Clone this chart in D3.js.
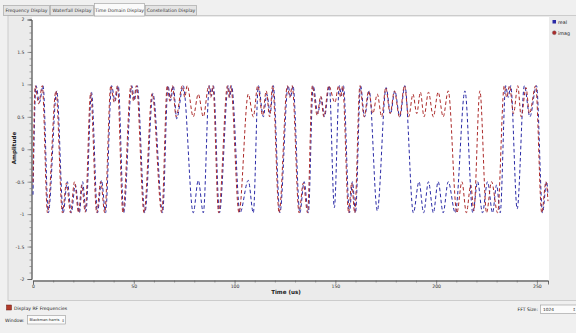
<!DOCTYPE html>
<html>
<head>
<meta charset="utf-8">
<script src="https://cdn.jsdelivr.net/npm/d3@7"></script>
<style>
  body { margin: 0; background: #f0f0f0; }
  svg { display: block; font-family: "DejaVu Sans", sans-serif; }
</style>
</head>
<body>
<div id="chart"></div>
<script>
// tabs and tick labels
const tabNames = ["Frequency Display", "Waterfall Display", "Time Domain Display", "Constellation Display"]
const xMajorTicks = [0, 50, 100, 150, 200, 250]
const yMajorTicks = [-2, -1.5, -1, -0.5, 0, 0.5, 1, 1.5, 2]
const seriesNames = ["real", "imag"]

// turning points of each trace: [sample, amplitude]
const realPoints = [
  [0, -0.7], [1.5, 0.98], [3.2, 0.72], [5, 0.98], [7.6, -0.98], [11.8, 0.9], [15, -0.98], [17, -0.5],
  [19, -0.98], [21, -0.55], [23, -0.98], [24.6, -0.5], [26.3, -0.96], [29, 0.88], [32, -0.98], [34, -0.48],
  [36, -0.98], [39, 0.98], [40.7, 0.74], [42.3, 0.98], [45, -0.98], [49, 0.98], [50.3, 0.75], [51.7, 0.98],
  [55.5, -0.98], [59.5, 0.86], [64.3, -0.98], [67, 0.98], [68.3, 0.75], [69.6, 0.98], [71.3, 0.47], [74.5, 0.98],
  [79.5, -0.98], [82, -0.48], [84.5, -0.98], [87.5, 0.98], [88.5, 0.82], [89.5, 0.98], [92.5, -0.98], [96.9, 0.98],
  [97.7, 0.8], [98.5, 0.98], [102.7, -0.98], [106.8, -0.48], [109.3, -0.98], [111.8, 0.98], [114.3, 0.5], [116, 0.85],
  [117.7, 0.55], [119.2, 0.98], [122.5, -0.98], [126.6, 0.98], [127.8, 0.8], [129, 0.98], [132.4, -0.98], [134.5, -0.5],
  [136.6, -0.98], [139, 0.98], [141.3, 0.55], [143, 0.8], [144.6, 0.5], [147, 0.98], [149.5, -0.9], [152, 0.98],
  [153, 0.82], [154, 0.98], [157, -0.98], [158.5, -0.5], [160, -0.98], [162.5, 0.98], [164.5, 0.5], [166.8, 0.9],
  [170.8, -0.95], [175.2, 0.95], [177.4, 0.55], [179.5, 0.9], [182, 0.5], [184.5, 0.98], [188.7, -0.98], [191.5, -0.5],
  [193.8, -0.98], [196.2, -0.5], [198.6, -0.98], [201, -0.5], [203.5, -0.98], [206, -0.5], [209.5, -0.98], [214.3, 0.9],
  [218.2, -0.98], [220.6, -0.5], [223, -0.98], [225.5, -0.5], [228, -0.98], [230, -0.55], [231.8, -0.98], [234.5, 0.98],
  [235.8, 0.8], [237, 0.98], [240.2, -0.92], [243.8, 0.98], [246.5, 0.5], [249.8, 0.98], [252.8, -0.98], [254.8, -0.5],
  [255.5, -0.7]
]
const imagPoints = [
  [0, -0.55], [1.1, 0.98], [2.8, 0.7], [4.6, 0.98], [7.2, -0.98], [11.4, 0.9], [14.6, -0.98], [16.6, -0.52],
  [18.6, -0.98], [20.6, -0.5], [22.6, -0.98], [24.2, -0.55], [25.9, -0.97], [28.6, 0.87], [31.6, -0.98], [33.6, -0.5],
  [35.6, -0.98], [38.6, 0.98], [40.3, 0.72], [41.9, 0.98], [44.6, -0.98], [48.6, 0.98], [49.9, 0.74], [51.3, 0.98],
  [55.1, -0.98], [59.1, 0.86], [63.9, -0.98], [66.6, 0.98], [67.9, 0.74], [69.2, 0.98], [71, 0.5], [74.1, 0.98],
  [75.3, 0.8], [76.5, 0.98], [79.5, 0.5], [82, 0.85], [84.5, 0.5], [87.2, 0.98], [88.2, 0.8], [89.2, 0.98],
  [92.1, -0.98], [96.5, 0.98], [97.3, 0.8], [98.1, 0.98], [102.2, -0.98], [106.8, 0.85], [109.3, 0.5], [111.5, 0.98],
  [113.9, 0.52], [115.7, 0.9], [117.4, 0.5], [118.9, 0.98], [122.1, -0.98], [126.2, 0.98], [127.4, 0.8], [128.6, 0.98],
  [132, -0.98], [134.1, -0.52], [136.2, -0.98], [138.6, 0.98], [141, 0.52], [142.7, 0.82], [144.3, 0.5], [146.7, 0.98],
  [149.8, 0.72], [151.6, 0.98], [152.6, 0.8], [153.6, 0.98], [156.6, -0.98], [158.1, -0.52], [159.6, -0.98], [162.2, 0.98],
  [164.3, 0.5], [166.5, 0.9], [168.6, 0.55], [170.8, 0.85], [173, 0.5], [175, 0.95], [177.2, 0.55], [179.3, 0.9],
  [181.8, 0.5], [184.3, 0.98], [186.4, 0.5], [188.5, 0.85], [190.4, 0.55], [192.2, 0.88], [194, 0.5], [196.2, 0.88],
  [198.6, 0.5], [201, 0.88], [203.5, 0.5], [206, 0.9], [210.3, -0.98], [212.8, -0.5], [215, -0.98], [217.2, -0.55],
  [218.7, -0.95], [221.7, 0.9], [225, -0.98], [227.5, -0.5], [230.5, -0.98], [233.8, 0.98], [235, 0.8], [236.4, 0.98],
  [238.4, 0.55], [240.5, 0.98], [242.2, 0.5], [244.6, 0.95], [246.3, 0.55], [249.4, 0.98], [252.4, -0.98], [254.5, -0.5],
  [255.5, -0.8]
]

const width = 576
const height = 333
const blue = "#2a2aa6"
const red = "#ac2a2a"

const svg = d3.select("#chart").append("svg")
  .attr("width", width)
  .attr("height", height)

svg.append("rect").attr("width", width).attr("height", height).attr("fill", "#f0f0f0")

// plot panel
svg.append("rect")
  .attr("x", 8).attr("y", 15.5).attr("width", 570).attr("height", 285)
  .attr("fill", "#ebebeb").attr("stroke", "#c4c4c4").attr("stroke-width", 0.8)

// tab bar
const tabEdges = [3, 50, 94, 145, 197]
const tabs = svg.append("g")
tabNames.forEach((name, i) => {
  const active = i === 2
  tabs.append("rect")
    .attr("x", tabEdges[i] + 0.5)
    .attr("y", active ? 3.5 : 5.5)
    .attr("width", tabEdges[i + 1] - tabEdges[i] - 1)
    .attr("height", active ? 12.5 : 10)
    .attr("fill", active ? "#fafafa" : "#e4e4e4")
    .attr("stroke", "#a8a8a8")
    .attr("stroke-width", 0.7)
  tabs.append("text")
    .attr("x", (tabEdges[i] + tabEdges[i + 1]) / 2)
    .attr("y", active ? 11.5 : 12.3)
    .attr("text-anchor", "middle")
    .attr("font-size", 4.6)
    .attr("fill", "#333")
    .text(name)
})

// scales
const x = d3.scaleLinear().domain([0, 255.5]).range([33, 548])
const y = d3.scaleLinear().domain([-2, 2]).range([279, 19.5])

// canvas
svg.append("rect")
  .attr("x", 32).attr("y", 17).attr("width", 517).attr("height", 263)
  .attr("fill", "#ffffff")

svg.append("clipPath").attr("id", "clip")
  .append("rect").attr("x", 32).attr("y", 17).attr("width", 517).attr("height", 263)

// axes
const xAxisG = svg.append("g").attr("transform", "translate(0,280.5)")
xAxisG.call(d3.axisBottom(x).tickValues(d3.range(0, 256, 10)).tickSize(2).tickFormat(""))
xAxisG.append("g").call(d3.axisBottom(x).tickValues(xMajorTicks).tickSize(4).tickPadding(0.5).tickFormat(d => String(d)))

const yAxisG = svg.append("g").attr("transform", "translate(31.5,0)")
yAxisG.call(d3.axisLeft(y).tickValues(d3.range(-20, 21).map(d => d / 10)).tickSize(2).tickFormat(""))
yAxisG.append("g").call(d3.axisLeft(y).tickValues(yMajorTicks).tickSize(4).tickPadding(3).tickFormat(d => String(d)))

svg.selectAll(".domain").attr("stroke", "#555").attr("stroke-width", 0.8)
svg.selectAll(".tick line").attr("stroke", "#666").attr("stroke-width", 0.6)
svg.selectAll(".tick text").attr("font-size", 4.6).attr("fill", "#333").attr("font-family", "DejaVu Sans, sans-serif")

// axis titles
svg.append("text")
  .attr("transform", "translate(15.5,148) rotate(-90)")
  .attr("text-anchor", "middle")
  .attr("font-size", 5.6).attr("font-weight", "bold").attr("fill", "#222")
  .text("Amplitude")
svg.append("text")
  .attr("x", 286).attr("y", 293.5)
  .attr("text-anchor", "middle")
  .attr("font-size", 5.6).attr("font-weight", "bold").attr("fill", "#222")
  .text("Time (us)")

// traces
const line = d3.line()
  .x(d => x(d[0]))
  .y(d => y(d[1]))
  .curve(d3.curveMonotoneX)

const plot = svg.append("g").attr("clip-path", "url(#clip)")
plot.append("path")
  .datum(realPoints)
  .attr("d", line)
  .attr("fill", "none")
  .attr("stroke", blue)
  .attr("stroke-width", 1)
  .attr("stroke-dasharray", "3.5,2.5")
plot.append("path")
  .datum(imagPoints)
  .attr("d", line)
  .attr("fill", "none")
  .attr("stroke", red)
  .attr("stroke-width", 1)
  .attr("stroke-dasharray", "3.5,2.5")
  .attr("stroke-dashoffset", 3)

// legend
const legend = svg.append("g")
seriesNames.forEach((name, i) => {
  const ly = 22 + i * 11
  if (i === 0) {
    legend.append("rect").attr("x", 552.5).attr("y", ly - 2).attr("width", 3.5).attr("height", 3.5).attr("fill", blue)
  } else {
    legend.append("circle").attr("cx", 554.3).attr("cy", ly - 0.3).attr("r", 2).attr("fill", red).attr("stroke", "#777").attr("stroke-width", 0.4)
  }
  legend.append("text")
    .attr("x", 558).attr("y", ly + 1.5)
    .attr("font-size", 4.8).attr("fill", "#222")
    .text(name)
})

// bottom controls
svg.append("rect")
  .attr("x", 6.5).attr("y", 305).attr("width", 5).attr("height", 5)
  .attr("fill", "#b23a2a").attr("stroke", "#6a1a12").attr("stroke-width", 0.5)
svg.append("text")
  .attr("x", 14).attr("y", 309.5)
  .attr("font-size", 4.6).attr("fill", "#222")
  .text("Display RF Frequencies")

svg.append("text")
  .attr("x", 5).attr("y", 321.5)
  .attr("font-size", 4.6).attr("fill", "#222")
  .text("Window:")
svg.append("rect")
  .attr("x", 27.5).attr("y", 315.5).attr("width", 38).attr("height", 8.5)
  .attr("fill", "#fbfbfb").attr("stroke", "#9a9a9a").attr("stroke-width", 0.6)
svg.append("text")
  .attr("x", 29.5).attr("y", 321.3)
  .attr("font-size", 3.7).attr("fill", "#222")
  .text("Blackman-harris")
svg.append("text")
  .attr("x", 61.5).attr("y", 321.5)
  .attr("font-size", 3.8).attr("fill", "#444")
  .text("⇕")

svg.append("text")
  .attr("x", 538).attr("y", 310.5)
  .attr("text-anchor", "end")
  .attr("font-size", 4.6).attr("fill", "#222")
  .text("FFT Size:")
svg.append("rect")
  .attr("x", 540.5).attr("y", 305).attr("width", 40).attr("height", 8.5)
  .attr("fill", "#fbfbfb").attr("stroke", "#9a9a9a").attr("stroke-width", 0.6)
svg.append("text")
  .attr("x", 543).attr("y", 311)
  .attr("font-size", 4.3).attr("fill", "#222")
  .text("1024")
svg.append("text")
  .attr("x", 572.5).attr("y", 311)
  .attr("font-size", 4).attr("fill", "#444")
  .text("⇕")
</script>
</body>
</html>
